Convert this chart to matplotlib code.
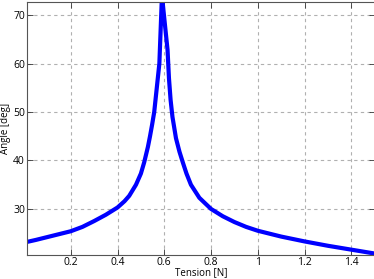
import matplotlib
matplotlib.use("Agg")
import matplotlib.pyplot as plt

tension = [0.013, 0.05, 0.1, 0.15, 0.2, 0.25, 0.3, 0.35, 0.4, 0.43, 0.45, 0.479, 0.5,
           0.514, 0.53, 0.539, 0.548, 0.557, 0.568, 0.579, 0.590,
           0.614, 0.62, 0.627, 0.635, 0.65, 0.665, 0.68, 0.695, 0.714, 0.75,
           0.8, 0.85, 0.9, 0.95, 1.0, 1.1, 1.2, 1.3, 1.4, 1.5]
angle = [23.2, 23.6, 24.2, 24.8, 25.4, 26.3, 27.5, 28.8, 30.3, 31.6, 32.7, 35.0, 37.3,
         39.6, 42.8, 45.0, 47.4, 50.0, 55.0, 60.0, 74.0,
         62.8, 57.0, 52.5, 49.0, 44.6, 41.8, 39.5, 37.3, 35.0, 32.3,
         30.0, 28.5, 27.3, 26.3, 25.5, 24.3, 23.3, 22.4, 21.6, 20.8]
xticks = [0.2, 0.4, 0.6, 0.8, 1.0, 1.2, 1.4]
xticklabels = ["0.2", "0.4", "0.6", "0.8", "1", "1.2", "1.4"]
yticks = [30, 40, 50, 60, 70]

plt.rcParams['font.family'] = ['Open Sans', 'DejaVu Sans']
fig = plt.figure(figsize=(3.74, 2.79), dpi=100)
ax = fig.add_axes([27/374, 1-255/279, 1.0-27/374+0.002, (255-2)/279])
ax.plot(tension, angle, color='#0000ff', lw=3, solid_joinstyle='round')
ax.set_xlim(0.013, 1.5)
ax.set_ylim(20.5, 72.7)
ax.set_xticks(xticks)
ax.set_xticklabels(xticklabels)
ax.set_yticks(yticks)
ax.grid(True, color='#b0b0b0', linestyle=(0, (3, 3)), linewidth=0.8)
ax.tick_params(direction='in', top=True, right=True, labelsize=7.5, length=4, width=0.6,
               colors='#333333', labelcolor='black', pad=1.5)
for s in ax.spines.values():
    s.set_color('#555555')
    s.set_linewidth(0.8)
ax.set_xlabel('Tension [N]', fontsize=7)
ax.set_ylabel('Angle [deg]', fontsize=7)
ax.xaxis.set_label_coords((201-27)/347, -(273-255)/253)
ax.yaxis.set_label_coords(-(27-6)/347, 0.5)
ax.xaxis.label.set_va('center')
ax.yaxis.label.set_va('center')
fig.savefig('out.png', dpi=100)
